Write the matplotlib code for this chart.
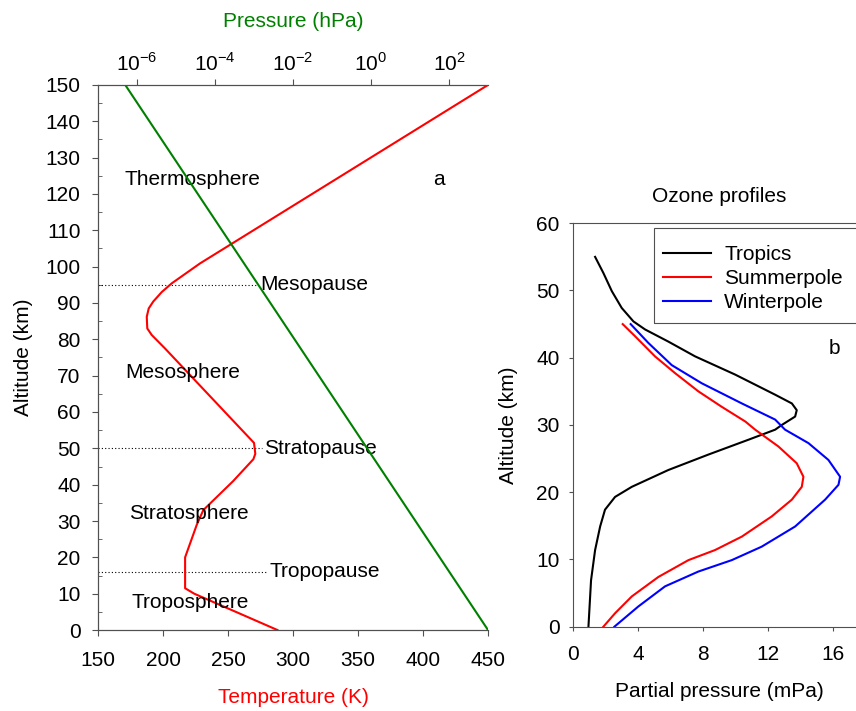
import matplotlib.pyplot as plt
import matplotlib.ticker as mticker
from matplotlib.patches import Rectangle

plt.rcParams['font.family'] = ['Liberation Sans', 'DejaVu Sans']
plt.rcParams['mathtext.fontset'] = 'custom'
plt.rcParams['mathtext.rm'] = 'Liberation Sans'
plt.rcParams['axes.unicode_minus'] = False
plt.rcParams['font.size'] = 15

# temperature profile (K) vs altitude (km)
temp_alt = [0, 10, 11.5, 20, 29, 33, 41, 47, 48.5, 51.5, 77.5, 81.2, 83, 86.2, 88.5, 90.4, 93, 95.4, 98, 100.9, 150]
temp_K = [288, 224, 217, 217, 226, 231, 254, 269.5, 271, 270, 201.5, 191.3, 187.9, 187.5, 189, 192.5, 199, 206.7, 217, 228.5, 450]

# pressure (hPa) vs altitude
pres_alt = [0, 150]
pres_hPa = [1000, 5e-7]

pres_ticks = [1e-6, 1e-4, 1e-2, 1e0, 1e2]
pres_labels = ['10$^{\\mathregular{-6}}$', '10$^{\\mathregular{-4}}$', '10$^{\\mathregular{-2}}$',
               '10$^{\\mathregular{0}}$', '10$^{\\mathregular{2}}$']

# layer boundaries and names
pause_alt = [95, 50, 16]
pause_names = ['Mesopause', 'Stratopause', 'Tropopause']
pause_end_T = [273, 276, 280]
layer_names = ['Thermosphere', 'Mesosphere', 'Stratosphere', 'Troposphere']
layer_alt = [124, 71, 32, 7.5]
layer_T = [170, 171, 174, 176]

# ozone profiles: partial pressure (mPa) vs altitude (km)
trop_alt = [0, 6.9, 11.4, 14.9, 17.4, 19.3, 20.8, 23.3, 25.6, 27.8, 29.3, 30.0, 31.25, 32.2, 33.2, 34.5,
            37.5, 40.2, 42.4, 44.2, 45.4, 47.4, 49.9, 52.6, 55]
trop_o3 = [0.93, 1.09, 1.34, 1.65, 1.95, 2.57, 3.6, 5.85, 8.32, 10.78, 12.43, 12.84, 13.66, 13.76, 13.46, 12.43,
           9.96, 7.5, 5.85, 4.42, 3.7, 2.98, 2.37, 1.85, 1.34]
summ_alt = [0, 2.0, 4.5, 7.4, 9.9, 11.4, 13.4, 16.4, 18.9, 20.8, 22.3, 24.3, 26.8, 29.3, 30.5, 32.7,
            35.0, 37.7, 40.2, 43.2, 45]
summ_o3 = [1.85, 2.57, 3.6, 5.24, 7.09, 8.73, 10.38, 12.22, 13.46, 14.07, 14.17, 13.76, 12.63, 11.2, 10.6, 9.14,
           7.7, 6.27, 5.03, 3.8, 3.04]
wint_alt = [0, 3.0, 6.0, 8.2, 9.9, 11.9, 14.9, 18.9, 21.1, 22.3, 24.8, 27.3, 29.3, 30.8, 33.2,
            36.2, 38.9, 42.2, 45]
wint_o3 = [2.53, 4.0, 5.65, 7.7, 9.76, 11.6, 13.66, 15.51, 16.33, 16.43, 15.71, 14.48, 13.04, 12.43, 10.38,
           7.91, 6.06, 4.62, 3.53]

spine_col = '#505050'

fig = plt.figure(figsize=(8.56, 7.11), dpi=100)

# ---- panel a ----
ax = fig.add_axes([0.1145, 0.1139, 0.4556, 0.7666])
ax.plot(temp_K, temp_alt, color='red', lw=1.5, zorder=3)
ax.set_xlim(150, 450)
ax.set_ylim(0, 150)
ax.set_xticks(range(150, 451, 50))
ax.set_yticks(range(0, 151, 10))
ax.yaxis.set_minor_locator(mticker.MultipleLocator(5))
ax.tick_params(axis='both', which='major', direction='out', length=4.5, color=spine_col)
ax.tick_params(axis='y', which='major', pad=8)
ax.tick_params(axis='x', which='major', pad=10.5)
ax.tick_params(axis='y', which='minor', direction='in', length=3, color=spine_col)
ax.set_xlabel('Temperature (K)', color='red', labelpad=13)
ax.set_ylabel('Altitude (km)', labelpad=9)
ax.spines['right'].set_visible(False)
for s in ['left', 'bottom', 'top']:
    ax.spines[s].set_color(spine_col)

for a, name, tend in zip(pause_alt, pause_names, pause_end_T):
    ax.plot([150, tend], [a, a], color='black', lw=0.8, ls=(0, (1, 2)))
    ax.text(tend + 2, a, name, va='center', ha='left')
for name, a, t in zip(layer_names, layer_alt, layer_T):
    ax.text(t, a, name, va='center', ha='left')
ax.text(412, 124, 'a', va='center', ha='center')

axp = ax.twiny()
axp.plot(pres_hPa, pres_alt, color='green', lw=1.5)
axp.set_xscale('log')
axp.set_xlim(1e-7, 1e3)
axp.set_xticks(pres_ticks)
axp.set_xticklabels(pres_labels)
axp.xaxis.set_minor_locator(mticker.NullLocator())
axp.tick_params(axis='x', direction='out', length=4.5, color=spine_col, pad=3)
axp.set_xlabel('Pressure (hPa)', color='green', labelpad=18)
axp.spines['right'].set_visible(False)
for s in ['left', 'bottom', 'top']:
    axp.spines[s].set_color(spine_col)

# ---- panel b ----
bx = fig.add_axes([0.6698, 0.1186, 0.3414, 0.5674])
bx.plot(trop_o3, trop_alt, color='black', lw=1.5, label='Tropics')
bx.plot(summ_o3, summ_alt, color='red', lw=1.5, label='Summerpole')
bx.plot(wint_o3, wint_alt, color='blue', lw=1.5, label='Winterpole')
bx.set_xlim(0, 18)
bx.set_ylim(0, 60)
bx.set_xticks([0, 4, 8, 12, 16])
bx.set_yticks(range(0, 61, 10))
bx.tick_params(axis='both', direction='out', length=3, color=spine_col)
bx.tick_params(axis='y', pad=7)
bx.tick_params(axis='x', pad=10)
bx.set_xlabel('Partial pressure (mPa)', labelpad=13)
bx.set_ylabel('Altitude (km)', labelpad=13)
bx.set_title('Ozone profiles', fontsize=15, pad=15)
for s in ['left', 'bottom', 'top']:
    bx.spines[s].set_color(spine_col)
bx.spines['right'].set_visible(False)
bx.text(16.1, 41.4, 'b', va='center', ha='center')
bx.legend(loc='upper left', bbox_to_anchor=(0.275, 0.9693), frameon=False,
          handlelength=2.3, borderpad=0.45, labelspacing=0.25,
          handletextpad=0.64, borderaxespad=0)
# legend box runs past the right edge of the picture
bx.add_patch(Rectangle((0.276, 0.7536), 0.8, 0.234, transform=bx.transAxes, fill=False,
                       edgecolor=spine_col, lw=0.8, clip_on=False))

fig.savefig('out.png', dpi=100)
